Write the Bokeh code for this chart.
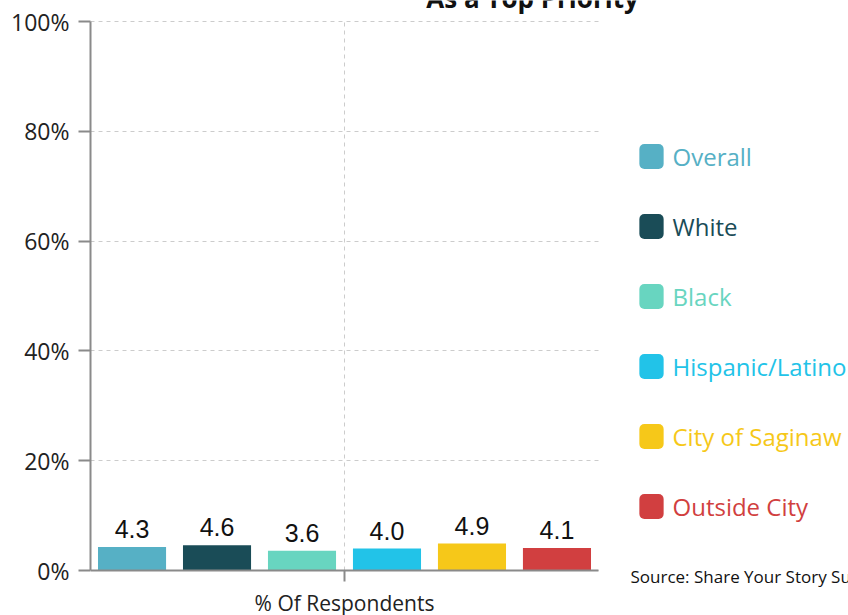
from bokeh.plotting import figure
from bokeh.models import (Range1d, FixedTicker, PrintfTickFormatter,
                          Label, LabelSet, ColumnDataSource)
from bokeh.embed import file_html
from bokeh.resources import INLINE
from bokeh.core.properties import value

# ---- data ----
groups = ["Overall", "White", "Black", "Hispanic/Latino", "City of Saginaw", "Outside City"]
values = [4.3, 4.6, 3.6, 4.0, 4.9, 4.1]
colors = ["#56B0C5", "#1A4C57", "#68D5C0", "#22C3E8", "#F6C819", "#D13F40"]
category = "% Of Respondents"
y_ticks = [0, 20, 40, 60, 80, 100]
title_text = "As a Top Priority"
source_text = "Source: Share Your Story Survey"

W, H = 848, 615
FONT = "Open Sans"

# layout (page pixels)
FL, FR_AXIS, FB_AXIS, FT_AXIS = 90, 598, 570, 21   # chart area bounded by the axes
px_per_unit_y = (FB_AXIS - FT_AXIS) / 100.0
px_per_unit_x = (FR_AXIS - FL) / 1.0
x_end = 0.5 + (W - FR_AXIS) / px_per_unit_x
y_end = 100 + FT_AXIS / px_per_unit_y
y_start = -(H - FB_AXIS) / px_per_unit_y

p = figure(width=W, height=H, x_range=Range1d(-0.5, x_end), y_range=Range1d(y_start, y_end),
           output_backend="svg", toolbar_location=None,
           min_border_left=FL, min_border_right=0, min_border_top=0, min_border_bottom=0)
p.outline_line_color = None
p.background_fill_color = "white"
p.border_fill_color = "white"

# bars
n = len(groups)
step = 0.1673
bar_w = 0.134
xs = [(i - (n - 1) / 2) * step for i in range(n)]
src = ColumnDataSource(dict(x=xs, v=values, c=colors, t=[f"{v:.1f}" for v in values]))
p.vbar(x="x", top="v", bottom=0, width=bar_w, source=src, fill_color="c", line_color=None)
p.add_layout(LabelSet(x="x", y="v", text="t", source=src, y_offset=9,
                      text_align="center", text_baseline="alphabetic",
                      text_font=value("Liberation Sans"), text_font_size="25px",
                      text_color="#111111"))

# axes
p.yaxis.ticker = FixedTicker(ticks=y_ticks)
p.yaxis.formatter = PrintfTickFormatter(format="%d%%")
p.yaxis.bounds = (0, 100)
p.xaxis.ticker = FixedTicker(ticks=[0])
p.xaxis.major_label_overrides = {0: category}
p.xaxis.bounds = (-0.5, 0.5)
p.xaxis.fixed_location = 0
for ax in (p.xaxis[0], p.yaxis[0]):
    ax.axis_line_color = "#8a8a8a"
    ax.axis_line_width = 2
    ax.major_tick_line_color = "#8a8a8a"
    ax.major_tick_line_width = 2
    ax.major_tick_in = 0
    ax.major_tick_out = 12
    ax.minor_tick_line_color = None
    ax.major_label_text_font = FONT
    ax.major_label_text_color = "#222222"
p.yaxis.major_label_text_font_size = "23px"
p.xaxis.major_label_text_font_size = "21px"
p.yaxis.major_label_standoff = 9
p.xaxis.major_label_standoff = 7
p.xaxis.major_tick_out = 11

# grid
for gr in (p.xgrid[0], p.ygrid[0]):
    gr.grid_line_color = "#cccccc"
    gr.grid_line_dash = "4 4"
    gr.grid_line_width = 1
p.ygrid.ticker = FixedTicker(ticks=y_ticks)
p.xgrid.ticker = FixedTicker(ticks=[0])
p.ygrid.cross_bounds = (-0.5, 0.5)
p.xgrid.cross_bounds = (0, 100)

# screen helpers (relative to the frame: x from left, y from bottom)
def sx(px):
    return px - FL

def sy(py):
    return H - py

# legend (manual, coloured labels)
for i, (g, c) in enumerate(zip(groups, colors)):
    yy = sy(156 + i * 70)
    p.add_layout(Label(x=sx(651), y=yy, x_units="screen", y_units="screen", text=" ",
                       text_font_size="1px", text_align="center", text_baseline="middle",
                       padding=12, background_fill_color=c, border_radius=5))
    p.add_layout(Label(x=sx(672), y=yy, x_units="screen", y_units="screen", text=g,
                       text_font=FONT, text_font_size="24px", text_color=c,
                       text_align="left", text_baseline="middle"))

# title (cut at top) and source
p.add_layout(Label(x=sx(532), y=sy(-3), x_units="screen", y_units="screen", text=title_text,
                   text_font=FONT, text_font_style="bold", text_font_size="26px",
                   text_color="#111111", text_align="center", text_baseline="alphabetic"))
p.add_layout(Label(x=sx(630), y=sy(576), x_units="screen", y_units="screen", text=source_text,
                   text_font=FONT, text_font_size="17px", text_color="#111111",
                   text_align="left", text_baseline="middle"))

open("out.html", "w").write(file_html(p, INLINE))
